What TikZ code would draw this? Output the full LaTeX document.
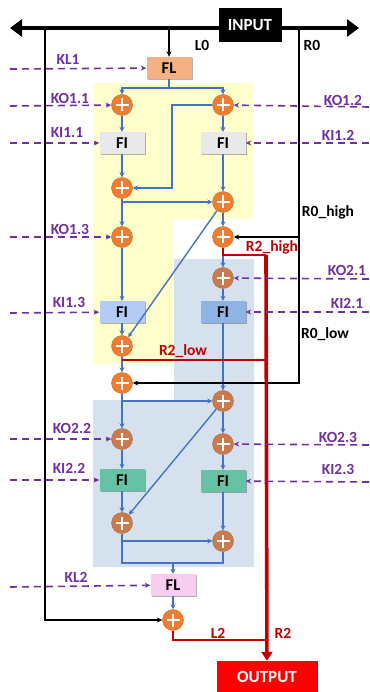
\documentclass[tikz,border=0pt]{standalone}
\usepackage{fontspec}
\setmainfont{Carlito}
\usetikzlibrary{arrows.meta,shadows}

\definecolor{addorange}{HTML}{ED7D31}
\definecolor{addbrown}{HTML}{C97B4E}
\definecolor{flowblue}{HTML}{4472C4}
\definecolor{keypurple}{HTML}{7030A0}
\definecolor{zoneyellow}{HTML}{FFFFCC}
\definecolor{zoneblue}{HTML}{D6E1EE}
\definecolor{flsalmon}{HTML}{F4B183}
\definecolor{flpink}{HTML}{F9CDF1}
\definecolor{figrey}{HTML}{E9E9E9}
\definecolor{filight}{HTML}{B2CCF6}
\definecolor{fiblue}{HTML}{8DB4E3}
\definecolor{figreen}{HTML}{66C2A5}
\definecolor{outred}{HTML}{FF0000}
\definecolor{wirered}{HTML}{C00000}

\tikzset{
  adder/.style={circle, fill=addorange, draw=addorange!85!black, line width=0.4pt,
    minimum size=21pt, inner sep=0pt,
    path picture={
      \draw[white, line width=2.6pt]
        ([xshift=-6.5pt]path picture bounding box.center) -- ([xshift=6.5pt]path picture bounding box.center)
        ([yshift=-6.5pt]path picture bounding box.center) -- ([yshift=6.5pt]path picture bounding box.center);
    }},
  adderdark/.style={adder, fill=addbrown, draw=addbrown!85!black},
  fbox/.style={rectangle, minimum width=45pt, minimum height=22pt, inner sep=0pt,
    font=\bfseries\fontsize{16.5}{18}\selectfont,
    drop shadow={shadow xshift=1.2pt, shadow yshift=-1.2pt, opacity=.3, fill=black}},
  flow/.style={draw=flowblue, line width=1.4pt, -{Stealth[length=5pt,width=5pt]}},
  flowline/.style={draw=flowblue, line width=1.4pt},
  keyin/.style={draw=keypurple, line width=1.6pt, dash pattern=on 7pt off 5pt,
    -{Stealth[length=5.5pt,width=5pt]}},
  keylab/.style={text=keypurple, font=\bfseries\fontsize{15.5}{17}\selectfont},
  feed/.style={draw=black, line width=1.5pt, -{Stealth[length=5.5pt,width=5pt]}},
  wire/.style={draw=wirered, line width=2.8pt},
  blab/.style={font=\bfseries\fontsize{15.5}{17}\selectfont},
  rlab/.style={text=wirered, font=\bfseries\fontsize{15.5}{17}\selectfont},
}

\begin{document}
\begin{tikzpicture}[x=1pt, y=-1pt]
  \useasboundingbox (0,0) rectangle (369,692);

  % round zones
  \fill[zoneyellow] (93,83) -- (253,83) -- (253,219) -- (173,219) -- (173,364) -- (93,364) -- cycle;
  \fill[zoneblue] (174,259) -- (254,259) -- (254,567) -- (93,567) -- (93,400) -- (174,400) -- cycle;

  % input bus
  \draw[line width=4pt, {Triangle[length=12pt,width=17pt]}-{Triangle[length=12pt,width=17pt]}] (10,28) -- (359,28);
  \node[fill=black, text=white, minimum width=63pt, minimum height=34pt, inner sep=0pt,
    font=\bfseries\fontsize{17}{19}\selectfont] (input) at (250,25) {INPUT};

  % blocks
  \node[fbox, fill=flsalmon] (FL1) at (169,68) {FL};
  \node[adder] (A11) at (122,105) {};
  \node[adder] (A12) at (223,105) {};
  \node[fbox, fill=figrey] (FI11) at (122,143) {FI};
  \node[fbox, fill=figrey] (FI12) at (223,143) {FI};
  \node[adder] (A21) at (122,188) {};
  \node[adder] (A22) at (223,202) {};
  \node[adder] (A31) at (122,237) {};
  \node[adder] (A32) at (223,237) {};
  \node[adderdark] (A42) at (223,278) {};
  \node[fbox, fill=filight] (FI13) at (122,312) {FI};
  \node[fbox, fill=fiblue] (FI21) at (223,312) {FI};
  \node[adder] (A41) at (122,346) {};
  \node[adder] (A51) at (122,383) {};
  \node[adderdark] (A52) at (223,401) {};
  \node[adderdark] (A61) at (122,439) {};
  \node[adderdark] (A62) at (223,444) {};
  \node[fbox, fill=figreen] (FI22) at (122,480) {FI};
  \node[fbox, fill=figreen] (FI23) at (223,481) {FI};
  \node[adderdark] (A71) at (122,523) {};
  \node[adderdark] (A72) at (223,541) {};
  \node[fbox, fill=flpink] (FL2) at (173,585) {FL};
  \node[adder] (AOut) at (173,620) {};
  \node[fill=outred, text=white, minimum width=101pt, minimum height=31pt, inner sep=0pt,
    font=\bfseries\fontsize{17}{19}\selectfont] (output) at (267,676.5) {OUTPUT};

  % helper points
  \coordinate (Ltop) at (45,28);
  \coordinate (Rtop) at (299,28);
  \coordinate (L0top) at (169,28);
  \coordinate (S1) at (169,88);
  \coordinate (C1) at (172,105);
  \coordinate (C2) at (172,188);
  \coordinate (B1) at (122,202);
  \coordinate (B2) at (122,401);
  \coordinate (B3) at (122,541);
  \coordinate (J1) at (122,563);
  \coordinate (J2) at (173,563);
  \coordinate (Rh) at (223,255);
  \coordinate (Rl) at (122,360);
  \coordinate (Lo) at (173,640);
  \coordinate (Rbus) at (266,255);

  % blue data flow
  \draw[flowline] (FL1) -- (S1);
  \draw[flow] (S1) -| (A11);
  \draw[flow] (S1) -| (A12);
  \draw[flow] (A11) -- (FI11);
  \draw[flow] (A12) -- (FI12);
  \draw[flow] (A12) -- (C1) -- (C2) -- (A21);
  \draw[flow] (FI11) -- (A21);
  \draw[flow] (FI12) -- (A22);
  \draw[flow] (B1) -- (A22);
  \draw[flow] (A21) -- (A31);
  \draw[flow] (A22) -- (A32);
  \draw[flow] (A22) -- (A41);
  \draw[flow] (A31) -- (FI13);
  \draw[flow] (FI13) -- (A41);
  \draw[flow] (A32) -- (A42);
  \draw[flow] (A42) -- (FI21);
  \draw[flow] (FI21) -- (A52);
  \draw[flow] (A41) -- (A51);
  \draw[flow] (A51) -- (A61);
  \draw[flow] (B2) -- (A52);
  \draw[flow] (A52) -- (A62);
  \draw[flow] (A52) -- (A71);
  \draw[flow] (A61) -- (FI22);
  \draw[flow] (A62) -- (FI23);
  \draw[flow] (FI22) -- (A71);
  \draw[flow] (FI23) -- (A72);
  \draw[flow] (B3) -- (A72);
  \draw[flowline] (A71) -- (J1) -| (A72);
  \draw[flow] (J2) -- (FL2);
  \draw[flow] (FL2) -- (AOut);

  % black feeds
  \draw[feed] (L0top) -- (FL1);
  \draw[feed] (Ltop) |- (AOut);
  \draw[feed] (Rtop) |- (A32);
  \draw[feed] (Rtop) |- (A51);
  \node[blab] (l0) at (202,45) {L0};
  \node[blab] (r0) at (312,45) {R0};
  \node[blab] (r0h) at (328,212) {R0\_high};
  \node[blab] (r0l) at (325,334) {R0\_low};

  % red outputs
  \draw[wire] (A32) -- (Rh) -- (Rbus);
  \draw[wire] (Rl) -- (Rl -| Rbus);
  \draw[wire, line width=3.6pt, -{Triangle[length=9pt,width=11pt]}] (Rbus) -- (output);
  \draw[wire] (AOut) -- (Lo) -- (Lo -| Rbus);
  \node[rlab] (r2h) at (272,247) {R2\_high};
  \node[rlab] (r2l) at (183,351) {R2\_low};
  \node[rlab] (l2) at (218,633) {L2};
  \node[rlab] (r2) at (283,633) {R2};

  % round keys, left
  \draw[keyin] (10,69) -- (FL1);
  \draw[keyin] (10,106) -- (A11);
  \draw[keyin] (10,143) -- (FI11);
  \draw[keyin] (10,237) -- (A31);
  \draw[keyin] (10,313) -- (FI13);
  \draw[keyin] (10,439) -- (A61);
  \draw[keyin] (10,480) -- (FI22);
  \draw[keyin] (10,587) -- (FL2);
  \node[keylab] (kl1) at (68,59) {KL1};
  \node[keylab] (ko11) at (70,98) {KO1.1};
  \node[keylab] (ki11) at (67,133) {KI1.1};
  \node[keylab] (ko13) at (70,229) {KO1.3};
  \node[keylab] (ki13) at (69,302) {KI1.3};
  \node[keylab] (ko22) at (72,428) {KO2.2};
  \node[keylab] (ki22) at (69,468) {KI2.2};
  \node[keylab] (kl2) at (76,577) {KL2};

  % round keys, right
  \draw[keyin] (369,107) -- (A12);
  \draw[keyin] (369,143) -- (FI12);
  \draw[keyin] (369,279) -- (A42);
  \draw[keyin] (369,312) -- (FI21);
  \draw[keyin] (369,445) -- (A62);
  \draw[keyin] (369,482) -- (FI23);
  \node[keylab] (ko12) at (343,100) {KO1.2};
  \node[keylab] (ki12) at (338,135) {KI1.2};
  \node[keylab] (ko21) at (347,270) {KO2.1};
  \node[keylab] (ki21) at (347,303) {KI2.1};
  \node[keylab] (ko23) at (338,437) {KO2.3};
  \node[keylab] (ki23) at (338,469) {KI2.3};
\end{tikzpicture}
\end{document}
